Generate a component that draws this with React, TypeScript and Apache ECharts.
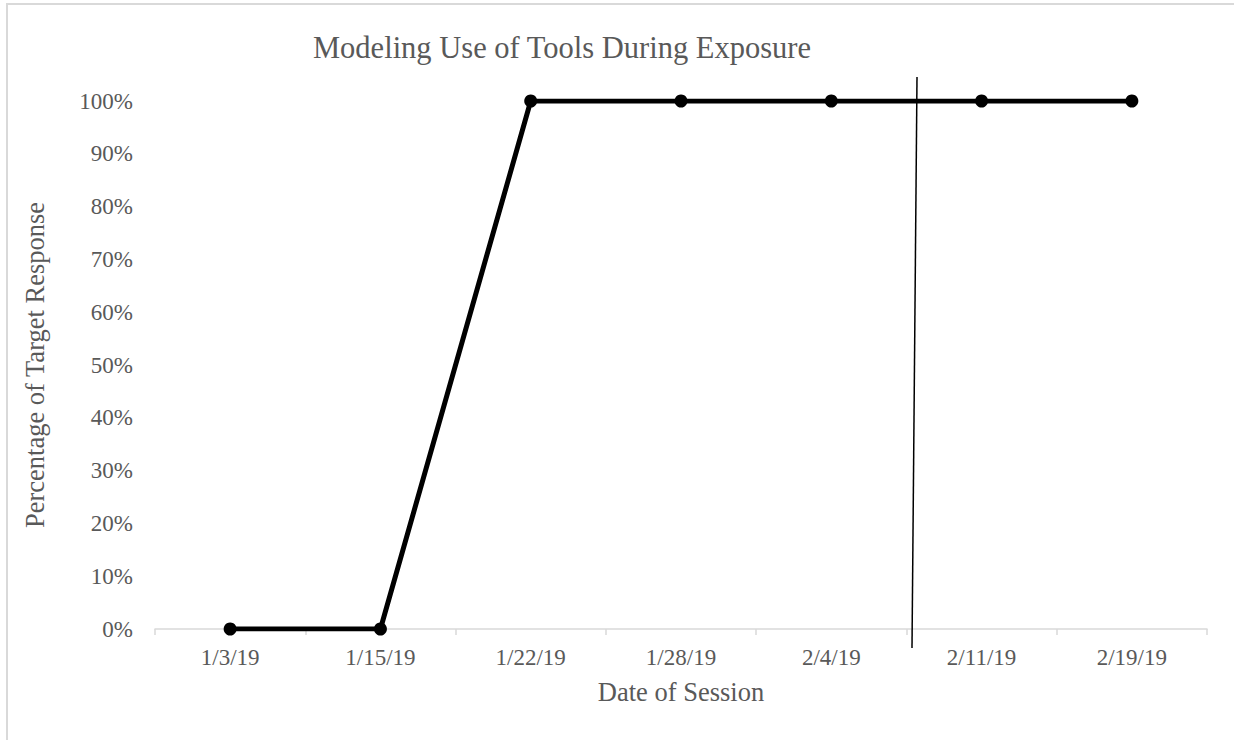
import React, { useEffect, useRef } from "react";
import * as echarts from "echarts";

const categories = ["1/3/19", "1/15/19", "1/22/19", "1/28/19", "2/4/19", "2/11/19", "2/19/19"];
const values = [0, 0, 100, 100, 100, 100, 100];
const yTicks = [0, 10, 20, 30, 40, 50, 60, 70, 80, 90, 100];

const titleText = "Modeling Use of Tools During Exposure";
const xName = "Date of Session";
const yName = "Percentage of Target Response";

const FONT = "Liberation Serif";
const GREY = "#595959";

export default function App() {
  const ref = useRef<HTMLDivElement>(null);
  useEffect(() => {
    if (!ref.current) return;
    const chart = echarts.init(ref.current, undefined, { renderer: "svg" });
    chart.setOption({
      animation: false,
      backgroundColor: "#ffffff",
      title: {
        text: titleText,
        left: 313,
        top: 33,
        padding: 0,
        textStyle: { fontFamily: FONT, fontSize: 30.5, fontWeight: "normal", color: GREY, lineHeight: 30 },
      },
      grid: { left: 155, right: 27, top: 101, bottom: 111, containLabel: false },
      xAxis: {
        type: "category",
        data: categories,
        boundaryGap: true,
        name: xName,
        nameLocation: "middle",
        nameGap: 49,
        nameTextStyle: { fontFamily: FONT, fontSize: 26.5, color: GREY },
        axisLine: { show: true, lineStyle: { color: "#d9d9d9", width: 1.5 } },
        axisTick: { show: true, length: 6, lineStyle: { color: "#d9d9d9", width: 1.5 } },
        axisLabel: { fontFamily: FONT, fontSize: 23, color: GREY, margin: 17 },
        splitLine: { show: false },
      },
      yAxis: {
        type: "value",
        min: 0,
        max: 100,
        interval: 10,
        name: yName,
        nameLocation: "middle",
        nameGap: 107,
        nameTextStyle: { fontFamily: FONT, fontSize: 26.5, color: GREY },
        axisLine: { show: false },
        axisTick: { show: false },
        splitLine: { show: false },
        axisLabel: {
          fontFamily: FONT,
          fontSize: 23,
          color: GREY,
          margin: 22,
          formatter: (v: number) => (yTicks.includes(v) ? v + "%" : ""),
        },
      },
      series: [
        {
          type: "line",
          data: values,
          symbol: "circle",
          symbolSize: 13,
          itemStyle: { color: "#000000" },
          lineStyle: { color: "#000000", width: 5 },
        },
      ],
      graphic: [
        {
          type: "rect",
          shape: { x: 7, y: 4, width: 1400, height: 900 },
          style: { fill: "none", stroke: "#d9d9d9", lineWidth: 2 },
          silent: true,
        },
        {
          type: "line",
          shape: { x1: 917, y1: 77, x2: 912, y2: 648 },
          style: { stroke: "#000000", lineWidth: 1.5 },
          silent: true,
          z: 100,
        },
      ],
    });
    return () => chart.dispose();
  }, []);
  return (
    <div
      ref={ref}
      style={{ position: "absolute", left: 0, top: 0, width: 1234, height: 740 }}
    />
  );
}
